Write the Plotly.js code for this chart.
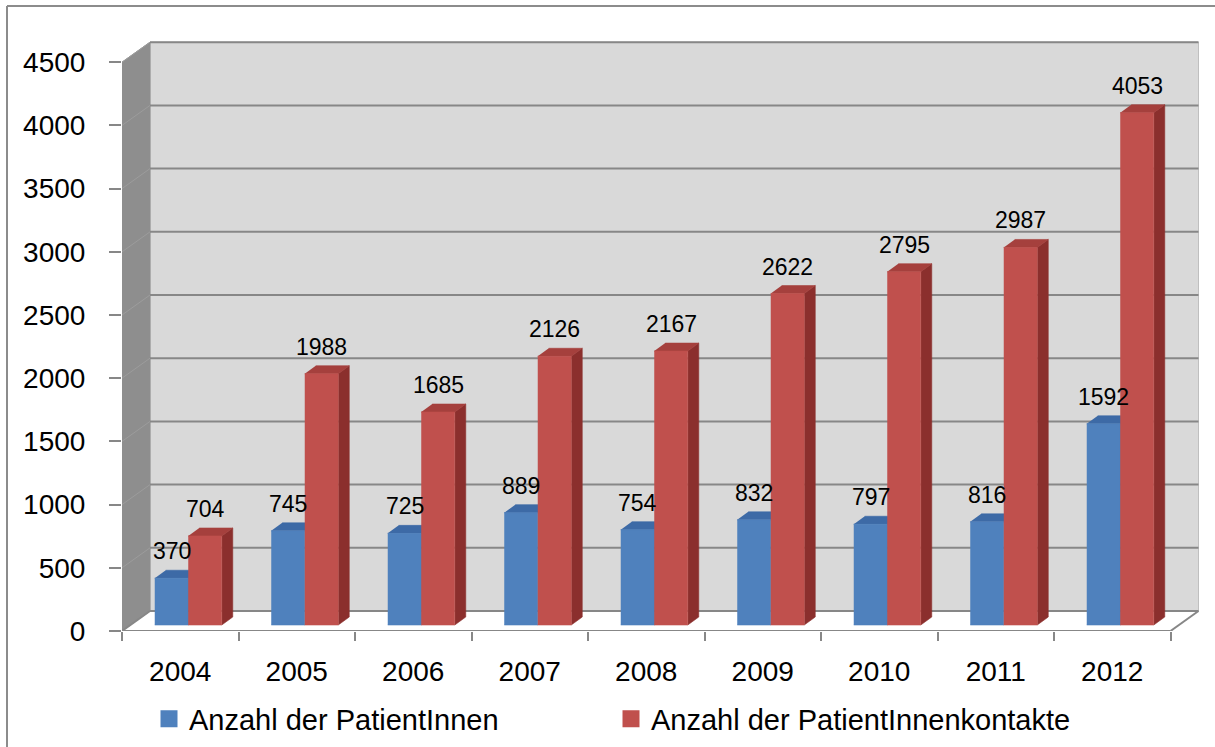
<!DOCTYPE html>
<html>
<head>
<meta charset="utf-8">
<script src="https://cdn.plot.ly/plotly-3.0.1.min.js"></script>
<style>html,body{margin:0;padding:0;background:#fff;}#chart{width:1215px;height:747px;}</style>
</head>
<body>
<div id="chart"></div>
<script>
// ---- data ----
const categories = ['2004','2005','2006','2007','2008','2009','2010','2011','2012'];
const patients = [370, 745, 725, 889, 754, 832, 797, 816, 1592];
const contacts = [704, 1988, 1685, 2126, 2167, 2622, 2795, 2987, 4053];
const yTickVals = [0, 500, 1000, 1500, 2000, 2500, 3000, 3500, 4000, 4500];
const seriesNames = ['Anzahl der PatientInnen', 'Anzahl der PatientInnenkontakte'];

// ---- geometry (pixels -> axis units) ----
const ML = 122, MR = 10, MT = 30, MB = 116, W = 1215, H = 747;
const PX_CAT = 116.5;          // px per category
const PX_VAL = 0.1264;         // px per value unit
const plotW = W - ML - MR, plotH = H - MT - MB;
const xRange = [-0.5, -0.5 + plotW / PX_CAT];
const yRange = [0, plotH / PX_VAL];
const WALL_DX = 28 / PX_CAT, WALL_DY = 20 / PX_VAL;
const BAR_W = 33.5 / PX_CAT;
const FACE_DX = 8 / PX_CAT, FACE_DY = 6 / PX_VAL;
const DEP_DX = 11 / PX_CAT, DEP_DY = 8 / PX_VAL;
const yMax = yTickVals[yTickVals.length - 1];
const nCat = categories.length;
const xLo = -0.5, xHi = nCat - 0.5;

const idx = categories.map((_, i) => i);

function faces(values, leftOff) {
  const f = {x: [], y: []}, t = {x: [], y: []}, s = {x: [], y: []};
  values.forEach((v, i) => {
    const xl = i + leftOff, xr = xl + BAR_W, y0 = FACE_DY, y1 = FACE_DY + v;
    f.x.push(xl, xr, xr, xl, null); f.y.push(y0, y0, y1, y1, null);
    t.x.push(xl, xr, xr + DEP_DX, xl + DEP_DX, null); t.y.push(y1, y1, y1 + DEP_DY, y1 + DEP_DY, null);
    s.x.push(xr, xr + DEP_DX, xr + DEP_DX, xr, null); s.y.push(y0, y0 + DEP_DY, y1 + DEP_DY, y1, null);
  });
  return {f, t, s};
}
function poly(d, color) {
  return {type: 'scatter', mode: 'lines', x: d.x, y: d.y, fill: 'toself', fillcolor: color,
    line: {color: color, width: 0.6}, hoverinfo: 'skip', showlegend: false, connectgaps: false};
}

const blue = {front: '#4f81bd', top: '#3d6aa6', side: '#335a8e'};
const red = {front: '#c0504d', top: '#a5403d', side: '#8b2f2d'};

const bF = faces(patients, -BAR_W + FACE_DX);
const rF = faces(contacts, FACE_DX);

const traces = [
  poly(bF.s, blue.side), poly(bF.t, blue.top), poly(bF.f, blue.front),
  poly(rF.s, red.side), poly(rF.t, red.top), poly(rF.f, red.front),
  {type: 'bar', x: [null], y: [null], name: seriesNames[0], marker: {color: blue.front, line: {color: blue.front, width: 5}}, hoverinfo: 'skip'},
  {type: 'bar', x: [null], y: [null], name: seriesNames[1], marker: {color: red.front, line: {color: red.front, width: 5}}, hoverinfo: 'skip'},
  {type: 'scatter', x: [null], y: [null], xaxis: 'x2', showlegend: false, hoverinfo: 'skip'}
];

// ---- walls & grid (shapes) ----
const shapes = [];
const GRID = '#878787';
shapes.push({type: 'path', xref: 'x', yref: 'y', layer: 'below',
  path: `M${xLo + WALL_DX},${WALL_DY} L${xHi + WALL_DX},${WALL_DY} L${xHi + WALL_DX},${yMax + WALL_DY} L${xLo + WALL_DX},${yMax + WALL_DY} Z`,
  fillcolor: '#d9d9d9', line: {color: '#bfbfbf', width: 1}});
shapes.push({type: 'path', xref: 'x', yref: 'y', layer: 'below',
  path: `M${xLo},0 L${xLo + WALL_DX},${WALL_DY} L${xLo + WALL_DX},${yMax + WALL_DY} L${xLo},${yMax} Z`,
  fillcolor: '#8e8e8e', line: {color: '#8e8e8e', width: 1}});
shapes.push({type: 'path', xref: 'x', yref: 'y', layer: 'below',
  path: `M${xLo},0 L${xHi},0 L${xHi + WALL_DX},${WALL_DY} L${xLo + WALL_DX},${WALL_DY} Z`,
  fillcolor: '#ffffff', line: {width: 0}});
yTickVals.forEach(v => {
  shapes.push({type: 'line', xref: 'x', yref: 'y', layer: 'below',
    x0: xLo + WALL_DX, x1: xHi + WALL_DX, y0: v + WALL_DY, y1: v + WALL_DY, line: {color: GRID, width: 2}});
  shapes.push({type: 'line', xref: 'x', yref: 'y', layer: 'below',
    x0: xLo, x1: xLo + WALL_DX, y0: v, y1: v + WALL_DY, line: {color: '#9c9c9c', width: 1}});
});
shapes.push({type: 'line', xref: 'x', yref: 'y', layer: 'below', x0: xLo, x1: xHi, y0: 0, y1: 0, line: {color: GRID, width: 2}});
shapes.push({type: 'line', xref: 'x', yref: 'y', layer: 'below', x0: xHi, x1: xHi + WALL_DX, y0: 0, y1: WALL_DY, line: {color: GRID, width: 2}});
shapes.push({type: 'line', xref: 'x', yref: 'y', layer: 'below', x0: xLo, x1: xLo + WALL_DX, y0: 0, y1: WALL_DY, line: {color: GRID, width: 2}});
const px2x = p => (p - ML) / plotW, py2y = p => (H - MB - p) / plotH;
shapes.push({type: 'line', xref: 'paper', yref: 'paper', x0: px2x(7), x1: px2x(1215), y0: py2y(6), y1: py2y(6), line: {color: '#8c8c8c', width: 2}});
shapes.push({type: 'line', xref: 'paper', yref: 'paper', x0: px2x(7), x1: px2x(7), y0: py2y(6), y1: py2y(747), line: {color: '#8c8c8c', width: 2}});

// ---- data labels ----
const FONT = 'Liberation Sans, Arial, sans-serif';
const annotations = [];
patients.forEach((v, i) => annotations.push({x: i - BAR_W / 2 + FACE_DX, y: v + FACE_DY, xref: 'x', yref: 'y',
  text: String(v), showarrow: false, yanchor: 'middle', yshift: 27, font: {family: FONT, size: 23, color: '#000'}}));
contacts.forEach((v, i) => annotations.push({x: i + BAR_W / 2 + FACE_DX, y: v + FACE_DY, xref: 'x', yref: 'y',
  text: String(v), showarrow: false, yanchor: 'middle', yshift: 27, font: {family: FONT, size: 23, color: '#000'}}));

const layout = {
  width: W, height: H,
  margin: {l: ML, r: MR, t: MT, b: MB, pad: 0, autoexpand: false},
  paper_bgcolor: '#ffffff', plot_bgcolor: 'rgba(0,0,0,0)',
  font: {family: FONT, size: 28, color: '#000'},
  barmode: 'overlay',
  showlegend: true,
  legend: {orientation: 'h', x: px2x(149), xanchor: 'left', y: py2y(719), yanchor: 'middle',
    entrywidth: 417, entrywidthmode: 'pixels', font: {family: FONT, size: 29, color: '#000'},
    bgcolor: 'rgba(0,0,0,0)', traceorder: 'normal'},
  xaxis: {range: xRange, tickmode: 'array', tickvals: idx, ticktext: categories,
    ticks: 'outside', ticklen: 15, tickcolor: 'rgba(0,0,0,0)', showgrid: false, zeroline: false, showline: false,
    tickfont: {family: FONT, size: 28, color: '#000'}, fixedrange: true, automargin: false},
  xaxis2: {range: xRange, overlaying: 'x', anchor: 'y', side: 'bottom', tickmode: 'array',
    tickvals: idx.map(i => i - 0.5).concat([nCat - 0.5]), showticklabels: false,
    ticks: 'outside', ticklen: 9, tickwidth: 2, tickcolor: GRID, showgrid: false, zeroline: false, showline: false},
  yaxis: {range: yRange, tickmode: 'array', tickvals: yTickVals, ticks: 'outside', ticklen: 12, tickwidth: 2,
    tickcolor: GRID, showgrid: false, zeroline: false, showline: false, ticklabelstandoff: 18,
    tickfont: {family: FONT, size: 28, color: '#000'}, fixedrange: true, automargin: false},
  shapes: shapes,
  annotations: annotations
};

Plotly.newPlot('chart', traces, layout, {displayModeBar: false, staticPlot: true});
</script>
</body>
</html>
